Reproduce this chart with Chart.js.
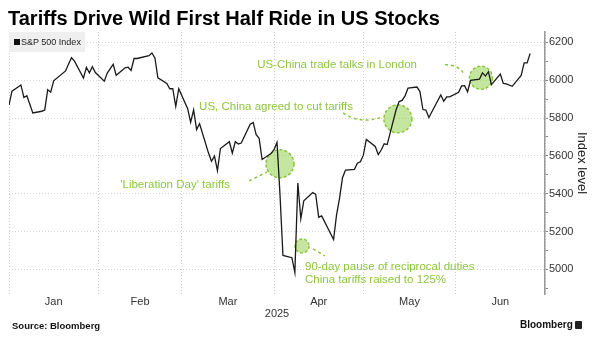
<!DOCTYPE html>
<html>
<head>
<meta charset="utf-8">
<script src="https://cdn.jsdelivr.net/npm/chart.js@4/dist/chart.umd.min.js"></script>
<style>
	body { margin: 0; background: #fff; }
	#wrap { position: relative; width: 601px; height: 343px; overflow: hidden; font-family: "Liberation Sans", Arial, sans-serif; }
	#chart { position: absolute; left: 0; top: 0; }
	.title { position: absolute; left: 8px; top: 8px; font-size: 20px; line-height: 1; font-weight: bold; color: #000; }
	.legend { position: absolute; left: 9px; top: 32px; width: 76px; height: 20px; background: #efefef; font-size: 9px; color: #222; }
	.legend .sq { position: absolute; left: 5px; top: 7px; width: 6px; height: 6px; background: #111; }
	.legend .txt { position: absolute; left: 12px; top: 5px; line-height: 10px; }
	.source { position: absolute; left: 12px; top: 320px; font-size: 9.5px; font-weight: bold; color: #111; }
	.logo { position: absolute; left: 520px; top: 319px; font-size: 10px; font-weight: bold; color: #111; }
	.logo .ico { position: absolute; left: 55px; top: 2px; width: 7px; height: 8px; background: #222; border-radius: 1px; }
</style>
</head>
<body>
<div id="wrap">
	<canvas id="chart" width="601" height="343"></canvas>
	<div class="title">Tariffs Drive Wild First Half Ride in US Stocks</div>
	<div class="legend"><span class="sq"></span><span class="txt">S&amp;P 500 Index</span></div>
	<div class="source">Source: Bloomberg</div>
	<div class="logo">Bloomberg<span class="ico"></span></div>
</div>
<script>
// Trading days (MM-DD, 2025) and S&P 500 closes
const tradeDates = [
	'01-02','01-03','01-06','01-07','01-08','01-10','01-13','01-14','01-15','01-16','01-17',
	'01-21','01-22','01-23','01-24','01-27','01-28','01-29','01-30','01-31',
	'02-03','02-04','02-05','02-06','02-07','02-10','02-11','02-12','02-13','02-14',
	'02-18','02-19','02-20','02-21','02-24','02-25','02-26','02-27','02-28',
	'03-03','03-04','03-05','03-06','03-07','03-10','03-11','03-12','03-13','03-14',
	'03-17','03-18','03-19','03-20','03-21','03-24','03-25','03-26','03-27','03-28','03-31',
	'04-01','04-02','04-03','04-04','04-07','04-08','04-09','04-10','04-11',
	'04-14','04-15','04-16','04-17','04-21','04-22','04-23','04-24','04-25',
	'04-28','04-29','04-30','05-01','05-02','05-05','05-06','05-07','05-08','05-09',
	'05-12','05-13','05-14','05-15','05-16','05-19','05-20','05-21','05-22','05-23',
	'05-27','05-28','05-29','05-30','06-02','06-03','06-04','06-05','06-06',
	'06-09','06-10','06-11','06-12','06-13','06-16','06-17','06-18','06-20',
	'06-23','06-24','06-25','06-26'
];
const spxValues = [
	5869, 5942, 5975, 5909, 5918, 5827, 5836, 5843, 5950, 5937, 5997,
	6049, 6086, 6119, 6101, 6012, 6068, 6039, 6071, 6041,
	5995, 6038, 6061, 6084, 6026, 6066, 6069, 6052, 6115, 6115,
	6130, 6144, 6118, 6013, 5983, 5955, 5956, 5862, 5955,
	5850, 5778, 5843, 5739, 5770, 5615, 5572, 5599, 5522, 5639,
	5675, 5615, 5675, 5663, 5668, 5768, 5777, 5712, 5693, 5581, 5612,
	5633, 5671, 5397, 5074, 5062, 4983, 5457, 5268, 5363,
	5406, 5397, 5276, 5283, 5158, 5288, 5376, 5485, 5525,
	5529, 5561, 5569, 5604, 5687, 5650, 5607, 5631, 5664, 5660,
	5844, 5887, 5893, 5917, 5958, 5964, 5940, 5845, 5842, 5803,
	5922, 5889, 5912, 5912, 5936, 5970, 5971, 5939, 6000,
	6006, 6039, 6022, 6045, 5977, 6033, 5983, 5981, 5968,
	6025, 6092, 6092, 6141
];
const monthLabels = ['Jan', 'Feb', 'Mar', 'Apr', 'May', 'Jun'];
const monthStarts = [0, 31, 59, 90, 120, 151, 181]; // day of year, Jan 1 = 0
const yTicks = [4900, 5000, 5100, 5200, 5300, 5400, 5500, 5600, 5700, 5800, 5900, 6000, 6100, 6200];

// Annotations: [day, value] anchors in data space
const notes = [
	{ lines: ["'Liberation Day' tariffs"], at: [75.2, 5446], align: 'right', circle: [92, 5558], r: 14,
	  link: [[81.6, 5468], [84.6, 5491], [87.6, 5515]] },
	{ lines: ['90-day pause of reciprocal duties', 'China tariffs raised to 125%'], at: [100.4, 5012], align: 'left', circle: [99.4, 5124], r: 7,
	  link: [[103.1, 5108], [105.1, 5090], [107.1, 5071]] },
	{ lines: ['US, China agreed to cut tariffs'], at: [116.5, 5860], align: 'right', circle: [131.6, 5796], r: 14,
	  link: [[113.2, 5828], [118.9, 5764], [126.6, 5807]] },
	{ lines: ['US-China trade talks in London'], at: [138.0, 6082], align: 'right', circle: [159.5, 6013], r: 11.5,
	  link: [[147.4, 6082], [151.8, 6082], [153.5, 6040]] }
];

function dayOfYear(md) {
	const [m, d] = md.split('-').map(Number);
	return (Date.UTC(2025, m - 1, d) - Date.UTC(2025, 0, 1)) / 86400000;
}

const points = tradeDates.map((d, i) => ({ x: dayOfYear(d), y: spxValues[i] }));

// x ticks: month boundaries (grid) + mid-month (labels)
const firstDay = points[0].x;
const xTickVals = [];
const xLabelAt = {};
for (let i = 0; i < monthLabels.length; i++) {
	const a = Math.max(monthStarts[i], firstDay), b = monthStarts[i + 1];
	xTickVals.push(a);
	const mid = (a + b) / 2;
	xTickVals.push(mid);
	xLabelAt[mid] = monthLabels[i];
}
xTickVals.push(monthStarts[monthStarts.length - 1]);

const green = '#8dc63f';

const notesPlugin = {
	id: 'notes',
	beforeDatasetsDraw(chart) {
		const { ctx, scales: { x, y } } = chart;
		ctx.save();
		notes.forEach(n => {
			const cx = x.getPixelForValue(n.circle[0]), cy = y.getPixelForValue(n.circle[1]);
			ctx.beginPath();
			ctx.arc(cx, cy, n.r, 0, Math.PI * 2);
			ctx.fillStyle = 'rgba(150, 210, 80, 0.55)';
			ctx.fill();
			ctx.setLineDash([3, 2]);
			ctx.lineWidth = 1.5;
			ctx.strokeStyle = green;
			ctx.stroke();
			// connector
			const p = n.link.map(q => [x.getPixelForValue(q[0]), y.getPixelForValue(q[1])]);
			ctx.beginPath();
			ctx.setLineDash([3, 3]);
			ctx.moveTo(p[0][0], p[0][1]);
			ctx.quadraticCurveTo(p[1][0], p[1][1], p[2][0], p[2][1]);
			ctx.stroke();
			// text
			ctx.setLineDash([]);
			ctx.fillStyle = green;
			ctx.font = '11.5px "Liberation Sans", Arial, sans-serif';
			ctx.textAlign = n.align;
			ctx.textBaseline = 'middle';
			const tx = x.getPixelForValue(n.at[0]);
			n.lines.forEach((line, k) => {
				ctx.fillText(line, tx, y.getPixelForValue(n.at[1]) + k * 13);
			});
		});
		ctx.restore();
	}
};

new Chart(document.getElementById('chart'), {
	type: 'line',
	data: {
		datasets: [{
			label: 'S&P 500 Index',
			data: points,
			borderColor: '#1a1a1a',
			borderWidth: 1.3,
			pointRadius: 0,
			tension: 0
		}]
	},
	options: {
		responsive: false,
		animation: false,
		layout: { padding: { left: 9, top: 32, right: 0, bottom: 19 } },
		plugins: { legend: { display: false }, tooltip: { enabled: false } },
		scales: {
			x: {
				type: 'linear',
				min: firstDay,
				max: monthStarts[monthStarts.length - 1],
				afterBuildTicks: s => { s.ticks = xTickVals.map(v => ({ value: v })); },
				afterFit: s => { s.height = 30; },
				grid: {
					drawTicks: false,
					color: c => (c.tick && xLabelAt[c.tick.value] === undefined) ? '#cfcfcf' : 'transparent',
					lineWidth: 1
				},
				border: { display: false, dash: [1, 2] },
				ticks: {
					autoSkip: false,
					maxRotation: 0,
					padding: 1,
					color: '#333',
					font: { family: '"Liberation Sans", Arial, sans-serif', size: 11 },
					callback: v => xLabelAt[v] || ''
				},
				title: {
					display: true,
					text: '2025',
					color: '#333',
					padding: { top: 0, bottom: 3 },
					font: { family: '"Liberation Sans", Arial, sans-serif', size: 11 }
				}
			},
			y: {
				position: 'right',
				min: 4870,
				max: 6255,
				afterBuildTicks: s => { s.ticks = yTicks.map(v => ({ value: v })); },
				afterFit: s => { s.width = 56; },
				grid: {
					color: c => (c.tick && c.tick.value % 200 === 0) ? '#d4d4d4' : 'transparent',
					tickColor: '#888',
					tickLength: 3,
					lineWidth: 1
				},
				border: { display: true, color: '#999', width: 1.5, dash: [1, 2] },
				ticks: {
					padding: 1,
					color: '#333',
					font: { family: '"Liberation Sans", Arial, sans-serif', size: 11 },
					callback: v => v % 200 === 0 ? String(v) : ''
				},
				title: {
					display: true,
					text: 'Index level',
					color: '#222',
					padding: { top: 12, bottom: 0 },
					font: { family: '"Liberation Sans", Arial, sans-serif', size: 13 }
				}
			}
		}
	},
	plugins: [notesPlugin]
});
</script>
</body>
</html>
